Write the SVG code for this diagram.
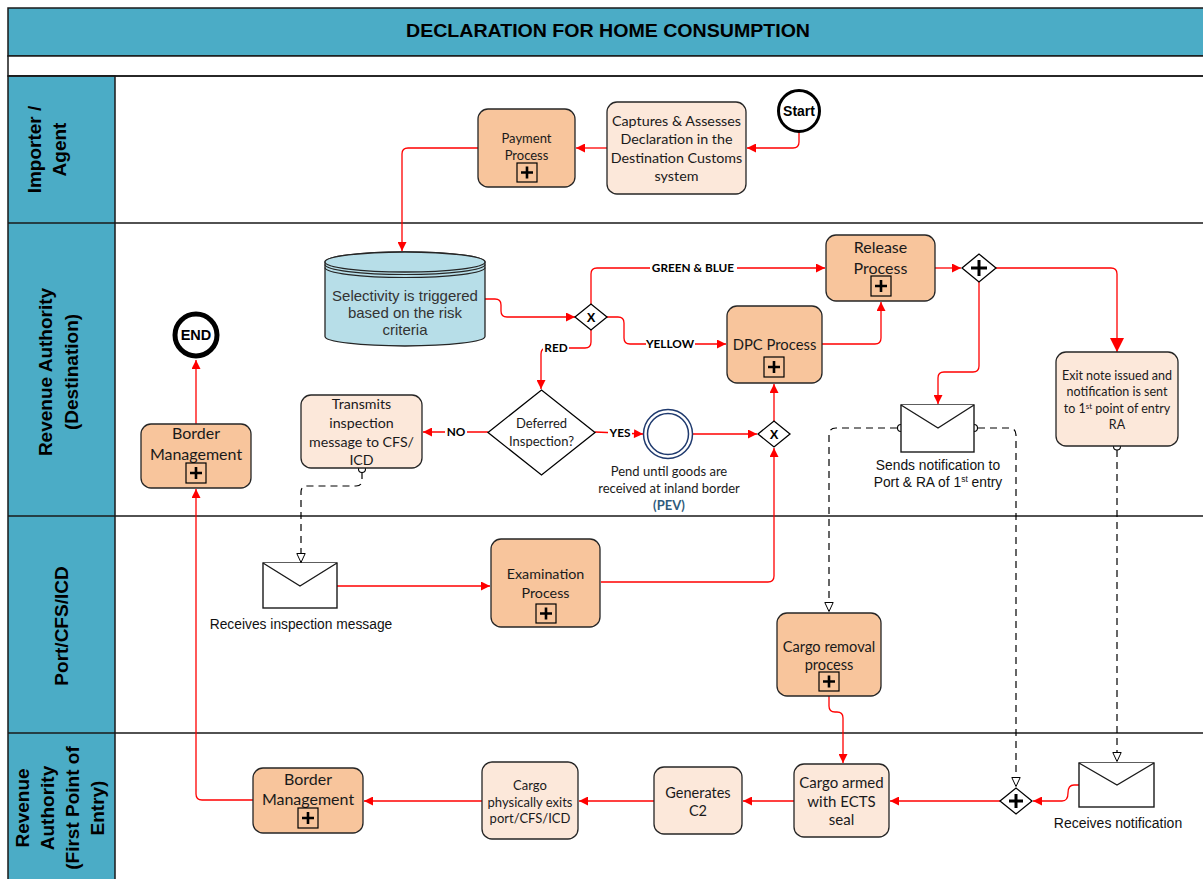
<svg xmlns="http://www.w3.org/2000/svg" width="1203" height="879" viewBox="0 0 1203 879">
<style>
.lane{fill:#4BACC6;stroke:#1a1a1a;stroke-width:1.5}
.line{stroke:#1a1a1a;stroke-width:1.6;fill:none}
.lt{font-family:"Liberation Sans",Arial,sans-serif;font-weight:bold;font-size:19px;fill:#000;text-anchor:middle}
.sp{fill:#F8C59C;stroke:#262626;stroke-width:1.3}
.tk{fill:#FCE8DA;stroke:#262626;stroke-width:1.3}
.t{font-family:Lato,"Liberation Sans",sans-serif;fill:#1a1a1a;text-anchor:middle}
.a{font-family:"Liberation Sans",Arial,sans-serif;text-anchor:middle}
.lbl{font-family:Lato,"Liberation Sans",sans-serif;font-weight:bold;font-size:11.8px;fill:#000;text-anchor:middle}
.flow{fill:none;stroke:#FF0000;stroke-width:1.3;marker-end:url(#ah)}
.msg{fill:none;stroke:#000;stroke-width:1.2;stroke-dasharray:7 5;marker-end:url(#oh)}
.gw{fill:#fff;stroke:#000;stroke-width:1.3}
.env{fill:#fff;stroke:#1a1a1a;stroke-width:1.4}
.pb{fill:none;stroke:#000;stroke-width:1.2}
.pc{fill:none;stroke:#000;stroke-width:2.6}
.dot{fill:#fff;stroke:#000;stroke-width:1.1}
</style>
<defs>
<marker id="ah" viewBox="0 0 10 10" refX="10" refY="5" markerWidth="10" markerHeight="9" markerUnits="userSpaceOnUse" orient="auto"><path d="M0,0 L10,5 L0,10 z" fill="#FF0000"/></marker>
<marker id="ahb" viewBox="0 0 10 10" refX="10" refY="5" markerWidth="16" markerHeight="14" markerUnits="userSpaceOnUse" orient="auto"><path d="M0,0 L10,5 L0,10 z" fill="#FF0000"/></marker>
<marker id="oh" viewBox="0 0 10 10" refX="10" refY="5" markerWidth="11" markerHeight="10" markerUnits="userSpaceOnUse" orient="auto"><path d="M0.5,0.8 L9.5,5 L0.5,9.2 z" fill="#fff" stroke="#000" stroke-width="1" stroke-dasharray="none"/></marker>
</defs>
<rect width="1203" height="879" fill="#fff"/>

<!-- frame / lanes -->
<g id="pool">
<rect x="8" y="8" width="1202" height="48" class="lane"/>
<text x="608" y="37" font-family="Liberation Sans,Arial,sans-serif" font-weight="bold" font-size="19" text-anchor="middle" textLength="404" lengthAdjust="spacingAndGlyphs">DECLARATION FOR HOME CONSUMPTION</text>
<rect x="8" y="56" width="1202" height="20" fill="#fff" stroke="#1a1a1a" stroke-width="1.5"/>
<rect x="8" y="76" width="107" height="810" class="lane"/>
<path class="line" d="M8,76 H1210 M8,223 H1210 M8,516 H1210 M8,733 H1210"/>
<text class="lt" transform="translate(0,149.5) rotate(-90)"><tspan x="0" y="41">Importer /</tspan><tspan x="0" y="66">Agent</tspan></text>
<text class="lt" transform="translate(0,372) rotate(-90)"><tspan x="0" y="52">Revenue Authority</tspan><tspan x="0" y="78">(Destination)</tspan></text>
<text class="lt" transform="translate(0,626) rotate(-90)"><tspan x="0" y="68">Port/CFS/ICD</tspan></text>
<text class="lt" transform="translate(0,808) rotate(-90)"><tspan x="0" y="29">Revenue</tspan><tspan x="0" y="54">Authority</tspan><tspan x="0" y="79">(First Point of</tspan><tspan x="0" y="104">Entry)</tspan></text>
</g>

<!-- connectors -->
<g id="connectors">
<path class="flow" d="M799,132 L799,142 Q799,148 793,148 L747,148"/>
<path class="flow" d="M607,148 L576,148"/>
<path class="flow" d="M478,148 L408,148 Q402,148 402,154 L402,251"/>
<path class="flow" d="M485,299 L495,299 Q501,299 501,305 L501,311 Q501,317 507,317 L575,317"/>
<path class="flow" d="M591,304 L591,274 Q591,268 597,268 L825,268"/>
<path class="flow" d="M607,317 L618,317 Q624,317 624,323 L624,338 Q624,344 630,344 L726,344"/>
<path class="flow" d="M591,330 L591,342 Q591,348 585,348 L547,348 Q541,348 541,354 L541,389"/>
<path class="flow" d="M822,344 L875,344 Q881,344 881,338 L881,302"/>
<path class="flow" d="M935,268 L961,268"/>
<path class="flow" style="marker-end:url(#ahb)" d="M996,268 L1111,268 Q1117,268 1117,274 L1117,352"/>
<path class="flow" d="M979,282 L979,366 Q979,372 973,372 L944,372 Q938,372 938,378 L938,404"/>
<path class="flow" d="M488,432 L423,432"/>
<path class="flow" d="M595,432 L643,434"/>
<path class="flow" d="M693,434 L757,434"/>
<path class="flow" d="M774,421 L774,384"/>
<path class="flow" d="M601,582 L768,582 Q774,582 774,576 L774,448"/>
<path class="flow" d="M337,586 L490,586"/>
<path class="flow" d="M253,800 L202,800 Q196,800 196,794 L196,489"/>
<path class="flow" d="M196,424 L196,360"/>
<path class="flow" d="M829,696 L829,706 Q829,712 835,712 L837,712 Q843,712 843,718 L843,763"/>
<path class="flow" d="M1000,801 L890,801"/>
<path class="flow" d="M794,801 L743,801"/>
<path class="flow" d="M654,801 L579,801"/>
<path class="flow" d="M482,801 L364,801"/>
<path class="flow" d="M1079,785 L1074,785 Q1068,785 1068,793 Q1068,801 1062,801 L1033,801"/>
<path class="msg" d="M362,472 L362,480 Q362,486 356,486 L307,486 Q301,486 301,492 L301,563"/>
<path class="msg" d="M897,428 L836,428 Q829,428 829,435 L829,612"/>
<path class="msg" d="M978,428 L1009,428 Q1016,428 1016,435 L1016,787"/>
<path class="msg" d="M1117,450 L1117,762"/>
<circle class="dot" cx="362" cy="469" r="3.5"/>
<circle class="dot" cx="901" cy="428" r="3.5"/>
<circle class="dot" cx="974" cy="428" r="3.5"/>
<circle class="dot" cx="1117" cy="446.5" r="3.5"/>
<rect x="650" y="261" width="87" height="14" fill="#fff"/>
<text class="lbl" x="693" y="272">GREEN &amp; BLUE</text>
<rect x="646" y="337" width="49" height="14" fill="#fff"/>
<text class="lbl" x="670" y="348">YELLOW</text>
<rect x="543" y="341" width="26" height="14" fill="#fff"/>
<text class="lbl" x="556" y="352">RED</text>
<rect x="445" y="425" width="22" height="14" fill="#fff"/>
<text class="lbl" x="456" y="436">NO</text>
<rect x="608" y="426" width="24" height="14" fill="#fff"/>
<text class="lbl" x="620" y="437">YES</text>
</g>

<g id="start">
<circle cx="799" cy="111" r="20.5" fill="#fff" stroke="#000" stroke-width="3"/>
<text x="799" y="116" font-family="Liberation Sans,Arial,sans-serif" font-weight="bold" font-size="14" text-anchor="middle">Start</text>
</g>
<g id="captures">
<rect x="607" y="102" width="139" height="92" rx="10" class="tk"/>
<text class="t" font-size="14.3"><tspan x="676.5" y="126">Captures &amp; Assesses</tspan><tspan x="676.5" y="144">Declaration in the</tspan><tspan x="676.5" y="162.5">Destination Customs</tspan><tspan x="676.5" y="181">system</tspan></text>
</g>
<g id="payment">
<rect x="478" y="109" width="97" height="78" rx="10" class="sp"/>
<text class="t" font-size="13"><tspan x="526.5" y="143">Payment</tspan><tspan x="526.5" y="160">Process</tspan></text>
<rect x="517" y="163" width="20" height="19" class="pb"/><path class="pc" d="M521,172.5 H533 M527,166.5 V178.5"/>
</g>
<g id="selectivity">
<path d="M325,262 A80,10 0 0 1 485,262 L485,336.5 A80,9.5 0 0 1 325,336.5 Z" fill="#B7DEE8" stroke="#262626" stroke-width="1.3"/>
<ellipse cx="405" cy="262" rx="80" ry="10" fill="#B7DEE8" stroke="#262626" stroke-width="1.3"/>
<path d="M325,264.5 A80,10 0 0 0 485,264.5 M325,267.5 A80,10 0 0 0 485,267.5" fill="none" stroke="#262626" stroke-width="1.2"/>
<text class="a" font-size="15" fill="#333"><tspan x="405" y="301">Selectivity is triggered</tspan><tspan x="405" y="318">based on the risk</tspan><tspan x="405" y="335">criteria</tspan></text>
</g>
<g id="gw-selectivity">
<polygon class="gw" points="575,317 591,304 607,317 591,330"/>
<text x="591" y="322" font-family="Liberation Sans,Arial,sans-serif" font-weight="bold" font-size="13" text-anchor="middle">X</text>
</g>
<g id="release">
<rect x="826" y="235" width="109" height="66" rx="10" class="sp"/>
<text class="t" font-size="16"><tspan x="880.5" y="252.5">Release</tspan><tspan x="880.5" y="273.5">Process</tspan></text>
<rect x="871" y="276" width="20" height="20" class="pb"/><path class="pc" d="M875,286 H887 M881,280 V292"/>
</g>
<g id="dpc">
<rect x="727" y="306" width="95" height="77" rx="10" class="sp"/>
<text class="t" font-size="14.8" x="774.5" y="350">DPC Process</text>
<rect x="764" y="357" width="20" height="20" class="pb"/><path class="pc" d="M768,367 H780 M774,361 V373"/>
</g>
<g id="gw-parallel-top">
<polygon class="gw" points="962,268 979,254 996,268 979,282"/>
<path d="M971,268 H987 M979,260 V276" stroke="#000" stroke-width="3"/>
</g>
<g id="exit-note">
<rect x="1056" y="352" width="122" height="94" rx="10" class="tk"/>
<text class="t" font-size="12.5"><tspan x="1117" y="379.5">Exit note issued and</tspan><tspan x="1117" y="396">notification is sent</tspan><tspan x="1117" y="412.5">to 1<tspan font-size="8" dy="-4">st</tspan><tspan dy="4"> point of entry</tspan></tspan><tspan x="1117" y="429">RA</tspan></text>
</g>
<g id="send-notification">
<rect x="901" y="405" width="73" height="47" class="env"/>
<polyline points="901,405 938,428 974,405" class="env" fill="none"/>
<text class="a" font-size="13.8" fill="#111"><tspan x="938" y="469.5">Sends notification to</tspan><tspan x="938" y="486.5">Port &amp; RA of 1<tspan font-size="8.5" dy="-4.5">st</tspan><tspan dy="4.5"> entry</tspan></tspan></text>
</g>
<g id="end">
<circle cx="196" cy="335" r="21" fill="#fff" stroke="#000" stroke-width="5"/>
<text x="196" y="340" font-family="Liberation Sans,Arial,sans-serif" font-weight="bold" font-size="14.5" text-anchor="middle">END</text>
</g>
<g id="border-dest">
<rect x="141" y="424" width="110" height="64" rx="10" class="sp"/>
<text class="t" font-size="16"><tspan x="196" y="439">Border</tspan><tspan x="196" y="460">Management</tspan></text>
<rect x="186" y="463" width="20" height="20" class="pb"/><path class="pc" d="M190,473 H202 M196,467 V479"/>
</g>
<g id="transmits">
<rect x="301" y="395" width="121" height="73" rx="10" class="tk"/>
<text class="t" font-size="14.2"><tspan x="361.5" y="409">Transmits</tspan><tspan x="361.5" y="428">inspection</tspan><tspan x="361.5" y="447">message to CFS/</tspan><tspan x="361.5" y="465">ICD</tspan></text>
</g>
<g id="deferred">
<polygon class="gw" points="488,432.5 541.5,390 595,432.5 541.5,475"/>
<text class="t" font-size="13"><tspan x="541.5" y="428">Deferred</tspan><tspan x="541.5" y="446">Inspection?</tspan></text>
</g>
<g id="pend">
<circle cx="668" cy="434" r="24.5" fill="#fff" stroke="#1F3A6E" stroke-width="1.5"/>
<circle cx="668" cy="434" r="20.5" fill="none" stroke="#1F3A6E" stroke-width="1.5"/>
<text class="t" font-size="13" fill="#4A5A78"><tspan x="669" y="476">Pend until goods are</tspan><tspan x="669" y="493">received at inland border</tspan><tspan x="669" y="509.5" font-weight="bold" fill="#2F5B7C">(PEV)</tspan></text>
</g>
<g id="gw-x2">
<polygon class="gw" points="758,434 774,421 790,434 774,447"/>
<text x="774" y="439" font-family="Liberation Sans,Arial,sans-serif" font-weight="bold" font-size="13" text-anchor="middle">X</text>
</g>
<g id="receives-inspection">
<rect x="263" y="563" width="74" height="45" class="env"/>
<polyline points="263,563 300,586 337,563" class="env" fill="none"/>
<text class="a" font-size="13.8" fill="#111" x="301" y="629">Receives inspection message</text>
</g>
<g id="examination">
<rect x="491" y="539" width="109" height="88" rx="10" class="sp"/>
<text class="t" font-size="14.3"><tspan x="545.5" y="578.5">Examination</tspan><tspan x="545.5" y="597.5">Process</tspan></text>
<rect x="536" y="604" width="20" height="19" class="pb"/><path class="pc" d="M540,613.5 H552 M546,607.5 V619.5"/>
</g>
<g id="cargo-removal">
<rect x="777" y="613" width="104" height="83" rx="10" class="sp"/>
<text class="t" font-size="14.6"><tspan x="829" y="651.5">Cargo removal</tspan><tspan x="829" y="669.5">process</tspan></text>
<rect x="819" y="672" width="20" height="19" class="pb"/><path class="pc" d="M823,681.5 H835 M829,675.5 V687.5"/>
</g>
<g id="receives-notification">
<rect x="1079" y="763" width="75" height="44" class="env"/>
<polyline points="1079,763 1117,785 1154,763" class="env" fill="none"/>
<text class="a" font-size="14" fill="#111" x="1118" y="828">Receives notification</text>
</g>
<g id="gw-parallel-bottom">
<polygon class="gw" points="1000,801 1016,788 1032,801 1016,814"/>
<path d="M1009,801 H1023 M1016,794 V808" stroke="#000" stroke-width="3"/>
</g>
<g id="cargo-armed">
<rect x="794" y="764" width="95" height="73" rx="10" class="tk"/>
<text class="t" font-size="15"><tspan x="841.5" y="788">Cargo armed</tspan><tspan x="841.5" y="807">with ECTS</tspan><tspan x="841.5" y="825">seal</tspan></text>
</g>
<g id="generates">
<rect x="654" y="767" width="88" height="67" rx="10" class="tk"/>
<text class="t" font-size="14.5"><tspan x="698" y="798">Generates</tspan><tspan x="698" y="816">C2</tspan></text>
</g>
<g id="cargo-exits">
<rect x="482" y="762" width="96" height="77" rx="10" class="tk"/>
<text class="t" font-size="13"><tspan x="530" y="790">Cargo</tspan><tspan x="530" y="806.5">physically exits</tspan><tspan x="530" y="823">port/CFS/ICD</tspan></text>
</g>
<g id="border-entry">
<rect x="253" y="768" width="110" height="65" rx="10" class="sp"/>
<text class="t" font-size="16"><tspan x="308" y="785">Border</tspan><tspan x="308" y="805">Management</tspan></text>
<rect x="298" y="808" width="20" height="20" class="pb"/><path class="pc" d="M302,818 H314 M308,812 V824"/>
</g>
</svg>
